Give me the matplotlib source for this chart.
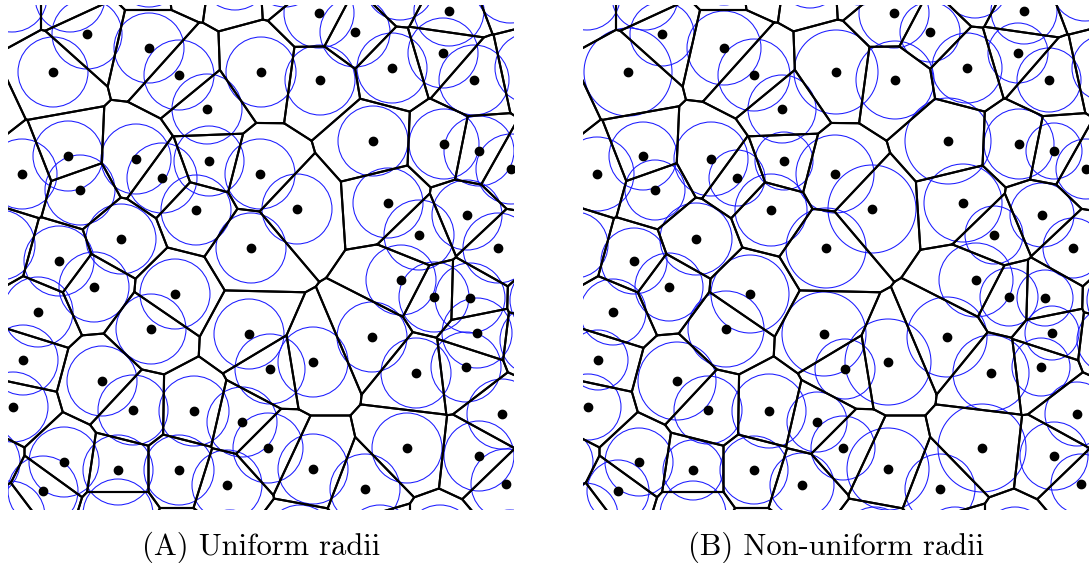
import numpy as np
import matplotlib
matplotlib.use("Agg")
import matplotlib.pyplot as plt
from matplotlib.patches import Circle

# Site positions (pixel-like units, y grows downward)
site_x = [87, 149, 53, 179, 261, 207, 68, 136, 22, 162, 209, 260, 80, 196, 121, 251, 59,
          319, 355, 449, 320, 392, 443, 474, 373, 444, 479, 511, 297, 388, 467, 419, 498,
          94, 38, 175, 151, 249, 23, 102, 133, 194, 13, 242, 64, 43, 118, 179, 227,
          401, 434, 470, 477, 372, 313, 270, 416, 466, 502, 268, 407, 479, 313, 365, 506]
site_y = [34, 48, 72, 75, 72, 109, 156, 159, 174, 178, 161, 174, 190, 210, 239, 248, 261,
          13, 32, 11, 80, 68, 53, 80, 141, 144, 151, 169, 209, 203, 215, 235, 248,
          287, 312, 294, 329, 334, 360, 381, 410, 411, 407, 422, 462, 491, 470, 470, 485,
          280, 297, 298, 333, 337, 362, 369, 373, 367, 414, 448, 448, 456, 469, 489, 484]

# Radii of the non-uniform configuration, one per site
radius_b = [32, 37, 44, 36, 42, 34, 34, 37, 37, 28, 29, 39, 30, 36, 36, 40, 33,
            35, 30, 33, 39, 35, 30, 32, 43, 35, 28, 30, 44, 39, 32, 29, 30,
            34, 33, 39, 38, 42, 30, 39, 34, 37, 33, 30, 34, 31, 30, 34, 32,
            37, 29, 28, 27, 40, 43, 30, 38, 29, 32, 32, 44, 34, 41, 35, 30]

# Sites lying just outside the visible window
ghost_x = [12, 70, 149, 185, 235, 285, 400, 510, -28, 0, -15, 10, 118, 179, 230, 300,
           380, 440, 510, 530, 545, 535]
ghost_y = [-3, -3, -28, -32, -25, -28, -15, -12, 110, 245, 462, 516, 514, 546, 545, 540,
           540, 540, 545, 68, 300, 340]
ghost_radius_b = [33] * len(ghost_x)

radius_a = 35.0

X0, X1, Y0, Y1 = 8, 514, 5, 510


def clip_halfplane(poly, a, b):
    """Keep the part of polygon with a.x <= b."""
    out = []
    n = len(poly)
    for k in range(n):
        p = poly[k]
        q = poly[(k + 1) % n]
        fp = a @ p - b
        fq = a @ q - b
        if fp <= 0:
            out.append(p)
        if fp * fq < 0:
            t = fp / (fp - fq)
            out.append(p + t * (q - p))
    return out


def voronoi_cells(pts):
    big = [np.array(v, float) for v in [(-300, -300), (800, -300), (800, 800), (-300, 800)]]
    cells = []
    for i, pi in enumerate(pts):
        poly = list(big)
        for j, pj in enumerate(pts):
            if i == j:
                continue
            a = 2 * (pj - pi)
            b = pj @ pj - pi @ pi
            poly = clip_halfplane(poly, a, b)
            if not poly:
                break
        cells.append(np.array(poly))
    return cells


all_pts = np.column_stack([site_x + ghost_x, site_y + ghost_y]).astype(float)
cells = voronoi_cells(all_pts)

fig = plt.figure(figsize=(10.89, 5.63), dpi=100)
W, H = 1089, 563

panels = [
    (8, [radius_a] * (len(site_x) + len(ghost_x)), "(A) Uniform radii", 261),
    (583, radius_b + ghost_radius_b, "(B) Non-uniform radii", 836),
]

for left, radii, caption, cx in panels:
    ax = fig.add_axes([left / W, (H - Y1) / H, (X1 - X0) / W, (Y1 - Y0) / H])
    ax.set_xlim(X0, X1)
    ax.set_ylim(Y1, Y0)
    ax.set_axis_off()
    for (x, y), r in zip(all_pts, radii):
        ax.add_patch(Circle((x, y), r, fill=False, edgecolor="#1a1aff", lw=0.75, zorder=1))
    for c in cells:
        if len(c) == 0:
            continue
        cc = np.vstack([c, c[:1]])
        ax.plot(cc[:, 0], cc[:, 1], color="black", lw=1.5, solid_joinstyle="round", zorder=2)
    ax.plot(site_x, site_y, "o", color="black", markersize=6, zorder=3)
    fig.text(cx / W, 1 - 547 / H, caption, ha="center", va="center",
             fontsize=22, family="cmr10")

fig.savefig("out.png", dpi=100)
